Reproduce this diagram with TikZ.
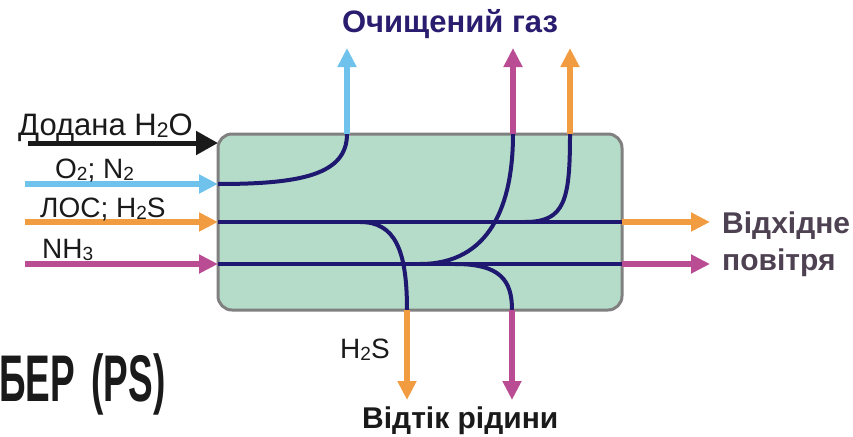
\documentclass[tikz,border=0pt]{standalone}
\usepackage{fontspec}
\usepackage{graphicx}
\setmainfont{Liberation Sans}
\usetikzlibrary{arrows.meta}

\definecolor{boxgreen}{HTML}{B4DCC8}
\definecolor{boxgray}{HTML}{808080}
\definecolor{navy}{HTML}{1F1870}
\definecolor{skyblue}{HTML}{6EC2EC}
\definecolor{flowor}{HTML}{F19C40}
\definecolor{flowmag}{HTML}{B94C92}
\definecolor{titlenavy}{HTML}{2A1C6E}
\definecolor{airtext}{HTML}{4E4252}
\definecolor{inkblack}{HTML}{1A1A1A}

% small index digit sitting near the baseline
\newcommand\lowidx[1]{\raisebox{-0.08em}{\scalebox{0.68}{#1}}}

\tikzset{
  flow/.style={line width=6.5pt, -{Triangle[length=19pt,width=18pt]}},
  feed/.style={line width=5pt, -{Triangle[length=22pt,width=23pt]}},
  stream/.style={draw=navy, line width=4pt},
  lbl/.style={inner sep=0pt, anchor=base west, text=inkblack,
              font=\fontsize{28}{30}\selectfont},
  head/.style={inner sep=0pt, font=\bfseries\fontsize{30}{33}\selectfont}
}

\begin{document}
\begin{tikzpicture}[x=1pt,y=-1pt]
\useasboundingbox (0,0) rectangle (853,436);

% scrubber body
\node[draw=boxgray, line width=3pt, fill=boxgreen, rounded corners=14pt,
      minimum width=404pt, minimum height=176pt, inner sep=0pt]
      (box) at (420,222) {};

% points on the body outline
\coordinate (h2oin)  at (218,143);
\coordinate (o2in)   at (218,184);
\coordinate (vocin)  at (218,222);
\coordinate (nh3in)  at (218,264);
\coordinate (vocout) at (622,222);
\coordinate (nh3out) at (622,264);
\coordinate (o2top)  at (347,134);
\coordinate (nh3top) at (513,134);
\coordinate (voctop) at (570,134);
\coordinate (h2sbot) at (407,310);
\coordinate (nh3bot) at (512,310);

% free ends of the feed and product arrows
\coordinate (h2osrc) at (28,143);
\coordinate (o2src)  at (25,184);
\coordinate (vocsrc) at (25,222);
\coordinate (nh3src) at (25,264);
\coordinate (o2gas)  at (347,48);
\coordinate (nh3gas) at (513,48);
\coordinate (vocgas) at (570,48);
\coordinate (vocair) at (710,222);
\coordinate (nh3air) at (710,264);
\coordinate (h2sliq) at (407,400);
\coordinate (nh3liq) at (512,400);

% streams inside the body
\draw[stream] (vocin) -- (vocout);
\draw[stream] (nh3in) -- (nh3out);
\draw[stream] (o2in) .. controls (300,184) and (347,175) .. (o2top);
\draw[stream] (420,264) .. controls (490,264) and (513,205) .. (nh3top);
\draw[stream] (525,222) .. controls (565,222) and (570,200) .. (voctop);
\draw[stream] (360,222) .. controls (395,222) and (407,250) .. (h2sbot);
\draw[stream] (455,264) .. controls (500,264) and (512,280) .. (nh3bot);

% feeds
\draw[feed, draw=inkblack, fill=inkblack] (h2osrc) -- (h2oin);
\draw[flow, draw=skyblue, fill=skyblue] (o2src) -- (o2in);
\draw[flow, draw=flowor, fill=flowor] (vocsrc) -- (vocin);
\draw[flow, draw=flowmag, fill=flowmag] (nh3src) -- (nh3in);

% cleaned gas
\draw[flow, draw=skyblue, fill=skyblue] (o2top) -- (o2gas);
\draw[flow, draw=flowmag, fill=flowmag] (nh3top) -- (nh3gas);
\draw[flow, draw=flowor, fill=flowor] (voctop) -- (vocgas);

% exhaust air
\draw[flow, draw=flowor, fill=flowor] (vocout) -- (vocair);
\draw[flow, draw=flowmag, fill=flowmag] (nh3out) -- (nh3air);

% liquid drain
\draw[flow, draw=flowor, fill=flowor] (h2sbot) -- (h2sliq);
\draw[flow, draw=flowmag, fill=flowmag] (nh3bot) -- (nh3liq);

% labels
\node[lbl, font=\fontsize{31}{33}\selectfont] (lh2o) at (18,135) {Додана H\lowidx{2}O};
\node[lbl] (lo2)  at (55,178) {O\lowidx{2}; N\lowidx{2}};
\node[lbl] (lvoc) at (40,217) {ЛОС; H\lowidx{2}S};
\node[lbl] (lnh3) at (42,258) {NH\lowidx{3}};
\node[lbl] (lh2s) at (340,358) {H\lowidx{2}S};

\node[head, anchor=base, text=titlenavy, font=\bfseries\fontsize{31}{33}\selectfont]
     (lgas) at (450,33) {Очищений газ};
\node[head, anchor=base west, text=airtext] (lair1) at (722,233) {Відхідне};
\node[head, anchor=base west, text=airtext] (lair2) at (722,270) {повітря};
\node[head, anchor=base west, text=inkblack] (lliq) at (362,428) {Відтік рідини};

\node[inner sep=0pt, anchor=base west, text=inkblack] (ltitle) at (-1,401)
     {\scalebox{0.56}[1]{\bfseries\fontsize{66}{70}\selectfont БЕР\hspace{0.45em}(PS)}};
\end{tikzpicture}
\end{document}
